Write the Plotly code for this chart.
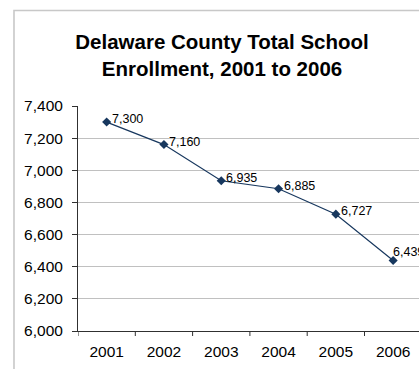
import plotly.graph_objects as go

years = ["2001", "2002", "2003", "2004", "2005", "2006"]
enrollment = [7300, 7160, 6935, 6885, 6727, 6439]
y_ticks = [6000, 6200, 6400, 6600, 6800, 7000, 7200, 7400]

W, H = 419, 369
L, R, T, B = 78, 0, 106, 38
pw, ph = W - L - R, H - T - B

line_color = "#17375E"
grid_color = "#C0C0C0"
axis_color = "#303030"
font_family = "Liberation Sans, Arial, sans-serif"

x_idx = list(range(len(years)))

fig = go.Figure()
fig.add_trace(go.Scatter(
    x=x_idx, y=enrollment,
    mode="lines+markers",
    line=dict(color=line_color, width=1.2),
    marker=dict(symbol="diamond", size=7, color=line_color),
    cliponaxis=False,
    hoverinfo="skip",
))

# value labels beside each point; the last one sits just above its point
for xi, v in zip(x_idx, enrollment):
    last = xi == x_idx[-1]
    fig.add_annotation(
        x=xi, y=v, text=f"{v:,}", showarrow=False,
        xanchor="left", yanchor="middle",
        xshift=-2 if last else 3, yshift=8 if last else 3,
        font=dict(family=font_family, size=12.5, color="#000000"),
    )

# outer chart frame (left and top edges visible)
def px_to_paper_x(px):
    return (px - L) / pw

def px_to_paper_y(py):
    return (H - B - py) / ph

fig.add_shape(
    type="rect", xref="paper", yref="paper",
    x0=px_to_paper_x(14), x1=px_to_paper_x(W + 20),
    y0=px_to_paper_y(H + 20), y1=px_to_paper_y(10.5),
    line=dict(color="#C8C8C8", width=1.6), fillcolor="rgba(0,0,0,0)",
    layer="below",
)

# category ticks sit between categories
fig.update_xaxes(
    range=[-0.5, -0.5 + pw / 57.3],
    tickmode="array", tickvals=x_idx, ticktext=years,
    showgrid=False, showline=True, linecolor=axis_color, linewidth=1,
    ticks="", zeroline=False, ticklabelstandoff=6,
    tickfont=dict(family=font_family, size=15.5, color="#000000"),
    fixedrange=True,
)
for b in range(0, len(years) + 1):
    fig.add_shape(
        type="line", xref="x", yref="paper",
        x0=b - 0.5, x1=b - 0.5, y0=0, y1=-5 / ph,
        line=dict(color=axis_color, width=1),
    )

fig.update_yaxes(
    range=[6000, 7400],
    tickmode="array", tickvals=y_ticks,
    ticktext=[f"{t:,}" for t in y_ticks],
    showgrid=True, gridcolor=grid_color, gridwidth=1,
    showline=True, linecolor=axis_color, linewidth=1,
    ticks="outside", ticklen=5, tickcolor=axis_color,
    zeroline=False, ticklabelstandoff=6,
    tickfont=dict(family=font_family, size=15.5, color="#000000"),
    fixedrange=True,
)

fig.update_layout(
    width=W, height=H,
    margin=dict(l=L, r=R, t=T, b=B),
    paper_bgcolor="white", plot_bgcolor="white",
    showlegend=False,
    title=dict(
        text="<b>Delaware County Total School<br>Enrollment, 2001 to 2006</b>",
        x=222 / W, xanchor="center",
        y=1 - 49 / H, yanchor="middle",
        font=dict(family=font_family, size=20.5, color="#000000"),
    ),
)

fig.write_html("out.html", config={"displayModeBar": False})
